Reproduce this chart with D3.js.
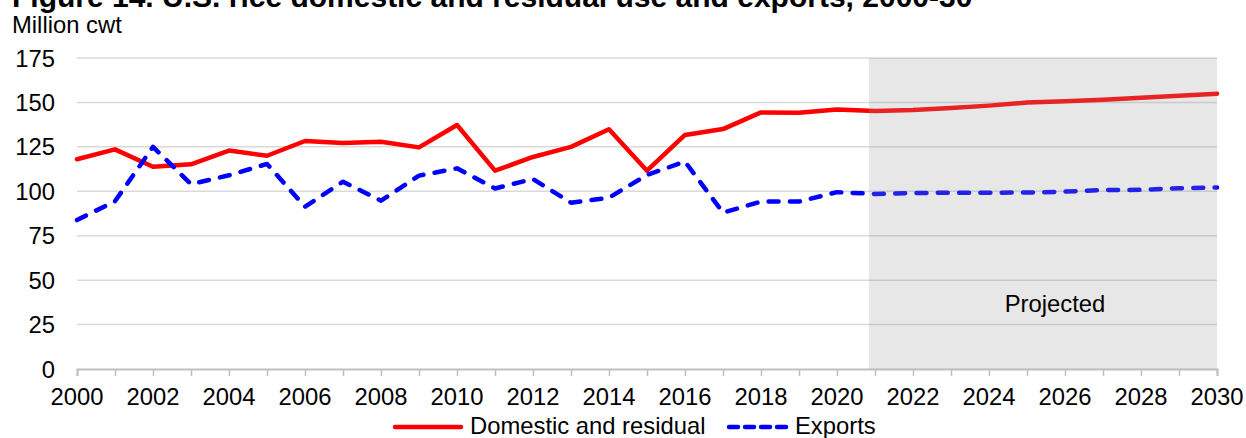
<!DOCTYPE html>
<html>
<head>
<meta charset="utf-8">
<script src="https://cdn.jsdelivr.net/npm/d3@7"></script>
<style>
  body { margin: 0; background: #fff; }
  text { font-family: "Liberation Sans", Arial, sans-serif; fill: #000; }
</style>
</head>
<body>
<script>
// U.S. rice domestic and residual use and exports, million cwt
var years = d3.range(2000, 2031);
var domestic = [118, 123.6, 113.8, 115.2, 122.9, 120, 128.3, 127.2, 127.9, 124.7,
                137.3, 111.6, 119.3, 125, 134.9, 111.6, 131.7, 135, 144.4, 144.2,
                146, 145.2, 145.7, 146.9, 148.2, 149.9, 150.6, 151.5, 152.7, 153.8, 154.9];
var exportsVals = [83.8, 94.4, 125, 104, 109, 115.4, 91.3, 105.4, 94.7, 108.8,
                   112.9, 101.6, 106.9, 93.6, 96.4, 109.2, 116.7, 88, 94.2, 94.2,
                   99.5, 98.5, 99, 99.2, 99.2, 99.3, 99.8, 100.7, 100.8, 101.7, 102.2];
var yTicks = [0, 25, 50, 75, 100, 125, 150, 175];
var xLabels = d3.range(2000, 2031, 2);
var projStart = 2020.84;

var W = 1246, H = 438;
var FS = "23.8px";
var svg = d3.select("body").append("svg").attr("width", W).attr("height", H);

var x = d3.scaleLinear().domain([2000, 2030]).range([77, 1217]);
var y = d3.scaleLinear().domain([0, 175]).range([369, 58]);

// title (clipped at top in the original)
svg.append("text").attr("x", 12).attr("y", 7)
    .style("font-size", "30px").style("font-weight", "bold")
    .text("Figure 14. U.S. rice domestic and residual use and exports, 2000-30");
svg.append("text").attr("x", 12).attr("y", 33)
    .style("font-size", FS)
    .text("Million cwt");

// gridlines
svg.append("g").selectAll("line").data(yTicks.filter(function(d){ return d > 0; }))
    .join("line")
    .attr("x1", x(2000)).attr("x2", x(2030))
    .attr("y1", function(d){ return y(d); }).attr("y2", function(d){ return y(d); })
    .attr("stroke", "#d9d9d9").attr("stroke-width", 1.5);

// y labels
svg.append("g").selectAll("text").data(yTicks).join("text")
    .attr("x", 55).attr("y", function(d){ return y(d); })
    .attr("dy", "0.36em").attr("text-anchor", "end")
    .style("font-size", FS)
    .text(function(d){ return d; });

// x axis
var xAxis = d3.axisBottom(x).tickValues(years).tickSize(7).tickFormat("");
var gx = svg.append("g").attr("transform", "translate(0," + y(0) + ")").call(xAxis);
gx.select(".domain").attr("stroke", "#bfbfbf").attr("stroke-width", 2);
gx.selectAll(".tick line").attr("stroke", "#bfbfbf").attr("stroke-width", 1.5);

svg.append("g").selectAll("text").data(xLabels).join("text")
    .attr("x", function(d){ return x(d); }).attr("y", 405)
    .attr("text-anchor", "middle")
    .style("font-size", FS)
    .text(function(d){ return d; });

// lines
var line = d3.line().x(function(d){ return x(d[0]); }).y(function(d){ return y(d[1]); });
svg.append("path")
    .attr("d", line(d3.zip(years, domestic)))
    .attr("fill", "none").attr("stroke", "#ff0000").attr("stroke-width", 4.5)
    .attr("stroke-linejoin", "round").attr("stroke-linecap", "round");
svg.append("path")
    .attr("d", line(d3.zip(years, exportsVals)))
    .attr("fill", "none").attr("stroke", "#0000ff").attr("stroke-width", 4.5)
    .attr("stroke-dasharray", "10,11.3")
    .attr("stroke-linejoin", "round").attr("stroke-linecap", "round");

// projected shading sits over the lines
svg.append("rect")
    .attr("x", x(projStart)).attr("y", y(175))
    .attr("width", x(2030) - x(projStart)).attr("height", y(0) - y(175))
    .attr("fill", "rgb(151,151,151)").attr("fill-opacity", 0.23);
svg.append("text").attr("x", 1055).attr("y", 312)
    .attr("text-anchor", "middle").style("font-size", FS)
    .text("Projected");

// legend
var lg = svg.append("g");
lg.append("line").attr("x1", 395).attr("x2", 461).attr("y1", 427).attr("y2", 427)
    .attr("stroke", "#ff0000").attr("stroke-width", 4.5).attr("stroke-linecap", "round");
lg.append("text").attr("x", 470).attr("y", 434).style("font-size", FS)
    .text("Domestic and residual");
lg.append("line").attr("x1", 729).attr("x2", 787).attr("y1", 427).attr("y2", 427)
    .attr("stroke", "#0000ff").attr("stroke-width", 4.5).attr("stroke-linecap", "round")
    .attr("stroke-dasharray", "9,7");
lg.append("text").attr("x", 795).attr("y", 434).style("font-size", FS)
    .text("Exports");
</script>
</body>
</html>
